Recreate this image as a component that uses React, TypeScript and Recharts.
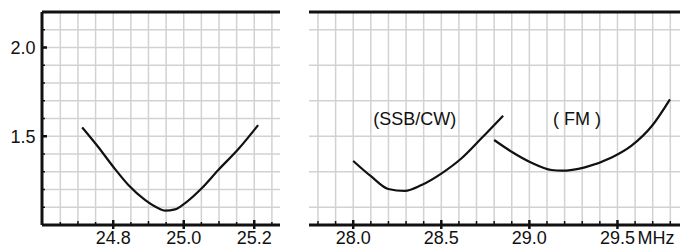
import React from 'react';
import { LineChart, Line, XAxis, YAxis, CartesianGrid, ReferenceLine, ReferenceDot } from 'recharts';

// 24.9 MHz band curve
const leftFreq = [24.712, 24.757, 24.8, 24.843, 24.89, 24.928, 24.947, 24.975, 25.003, 25.051, 25.098, 25.155, 25.211];
const leftSwr = [1.55, 1.441, 1.328, 1.225, 1.141, 1.094, 1.081, 1.088, 1.122, 1.207, 1.31, 1.428, 1.563];

// 28 MHz band, SSB/CW and FM segments
const ssbFreq = [28.0, 28.104, 28.199, 28.293, 28.388, 28.502, 28.615, 28.729, 28.851];
const ssbSwr = [1.361, 1.272, 1.203, 1.192, 1.225, 1.291, 1.376, 1.49, 1.616];
const fmFreq = [28.8, 28.899, 29.012, 29.126, 29.183, 29.315, 29.467, 29.58, 29.694, 29.798];
const fmSwr = [1.479, 1.413, 1.351, 1.31, 1.306, 1.325, 1.38, 1.447, 1.556, 1.708];

const leftXTicks = [24.65, 24.7, 24.75, 24.8, 24.85, 24.9, 24.95, 25.0, 25.05, 25.1, 25.15, 25.2, 25.25];
const leftXLabels = [24.8, 25.0, 25.2];
const rightXTicks = [27.8, 27.9, 28.0, 28.1, 28.2, 28.3, 28.4, 28.5, 28.6, 28.7, 28.8, 28.9, 29.0, 29.1, 29.2, 29.3, 29.4, 29.5, 29.6, 29.7, 29.8];
const rightXLabels = [28.0, 28.5, 29.0, 29.5];
const yTicks = [1.1, 1.2, 1.3, 1.4, 1.5, 1.6, 1.7, 1.8, 1.9, 2.0, 2.1];
const yLabels = [1.5, 2.0];

const FONT = '"Liberation Sans", Arial, Helvetica, sans-serif';
const FS = 18;
const TOP = 12;
const AXIS_Y = 225;
const Y_AXIS_X = 42;
const INK = '#111';
const GRID = '#d2d2d2';

const near = (list: number[], v: number) => list.some(l => Math.abs(l - v) < 1e-6);

const makeXTick = (labels: number[], unit?: string) => (props: any) => {
  const { x, payload } = props;
  const v = payload.value;
  const major = near(labels, v);
  const mid = Math.abs(Math.round(v * 10) - v * 10) < 1e-6;
  const up = major ? 5 : mid ? 4 : 3;
  return (
    <g>
      <line x1={x} x2={x} y1={AXIS_Y - up} y2={AXIS_Y + (major ? 4 : 0)} stroke={INK} strokeWidth={major ? 2.5 : 1.5} />
      {major && (
        <text x={x} y={243.5} textAnchor="middle" fontSize={FS} fontFamily={FONT} fill={INK}>
          {v.toFixed(1)}
        </text>
      )}
      {major && unit && v === labels[labels.length - 1] && (
        <text x={x + 20} y={243.5} textAnchor="start" fontSize={FS} fontFamily={FONT} fill={INK}>
          {unit}
        </text>
      )}
    </g>
  );
};

const YTick = (props: any) => {
  const { y, payload } = props;
  const v = payload.value;
  const major = near(yLabels, v);
  return (
    <g>
      <line x1={Y_AXIS_X} x2={Y_AXIS_X + (major ? 5 : 3)} y1={y} y2={y} stroke={INK} strokeWidth={major ? 2.5 : 1.5} />
      {major && (
        <text x={35.5} y={y + 6.5} textAnchor="end" fontSize={FS} fontFamily={FONT} fill={INK}>
          {v.toFixed(1)}
        </text>
      )}
    </g>
  );
};

const zip = (xs: number[], ys: number[]) => xs.map((f, i) => ({ f, swr: ys[i] }));

export default function App() {
  const leftData = zip(leftFreq, leftSwr);
  const ssbData = zip(ssbFreq, ssbSwr);
  const fmData = zip(fmFreq, fmSwr);

  return (
    <div style={{ position: 'absolute', left: 0, top: 0, width: 680, height: 247, background: '#fff', overflow: 'hidden' }}>
      <div style={{ position: 'absolute', left: 0, top: 0 }}>
        <LineChart width={290} height={247} margin={{ top: TOP, right: 10, bottom: 0, left: 0 }}>
          <CartesianGrid stroke={GRID} strokeWidth={1.5} horizontalValues={yTicks} verticalValues={leftXTicks} />
          <XAxis
            type="number"
            dataKey="f"
            domain={[24.598, 25.273]}
            ticks={leftXTicks}
            interval={0}
            height={22}
            tickLine={false}
            axisLine={{ stroke: INK, strokeWidth: 3 }}
            tick={makeXTick(leftXLabels)}
            allowDataOverflow
          />
          <YAxis
            type="number"
            domain={[1.0, 2.2]}
            ticks={yTicks}
            interval={0}
            width={42}
            tickLine={false}
            axisLine={{ stroke: INK, strokeWidth: 3 }}
            tick={YTick}
            allowDataOverflow
          />
          <ReferenceLine y={2.2} stroke={INK} strokeWidth={3} />
          <Line data={leftData} dataKey="swr" type="monotone" stroke={INK} strokeWidth={2.2} dot={false} isAnimationActive={false} />
        </LineChart>
      </div>
      <div style={{ position: 'absolute', left: 309, top: 0 }}>
        <LineChart width={371} height={247} margin={{ top: TOP, right: 0, bottom: 0, left: 0 }}>
          <CartesianGrid stroke={GRID} strokeWidth={1.5} horizontalValues={yTicks} verticalValues={rightXTicks} />
          <XAxis
            type="number"
            dataKey="f"
            domain={[27.749, 29.855]}
            ticks={rightXTicks}
            interval={0}
            height={22}
            tickLine={false}
            axisLine={{ stroke: INK, strokeWidth: 3 }}
            tick={makeXTick(rightXLabels, 'MHz')}
            allowDataOverflow
          />
          <YAxis type="number" hide domain={[1.0, 2.2]} ticks={yTicks} allowDataOverflow />
          <ReferenceLine y={2.2} stroke={INK} strokeWidth={3} />
          <ReferenceDot
            x={28.35}
            y={1.597}
            r={0}
            fill="none"
            stroke="none"
            label={{ value: '(SSB/CW)', position: 'center', fill: INK, fontSize: FS, fontFamily: FONT }}
          />
          <ReferenceDot
            x={29.27}
            y={1.597}
            r={0}
            fill="none"
            stroke="none"
            label={{ value: '( FM )', position: 'center', fill: INK, fontSize: FS, fontFamily: FONT }}
          />
          <Line data={ssbData} dataKey="swr" type="monotone" stroke={INK} strokeWidth={2.2} dot={false} isAnimationActive={false} />
          <Line data={fmData} dataKey="swr" type="monotone" stroke={INK} strokeWidth={2.2} dot={false} isAnimationActive={false} />
        </LineChart>
      </div>
    </div>
  );
}
